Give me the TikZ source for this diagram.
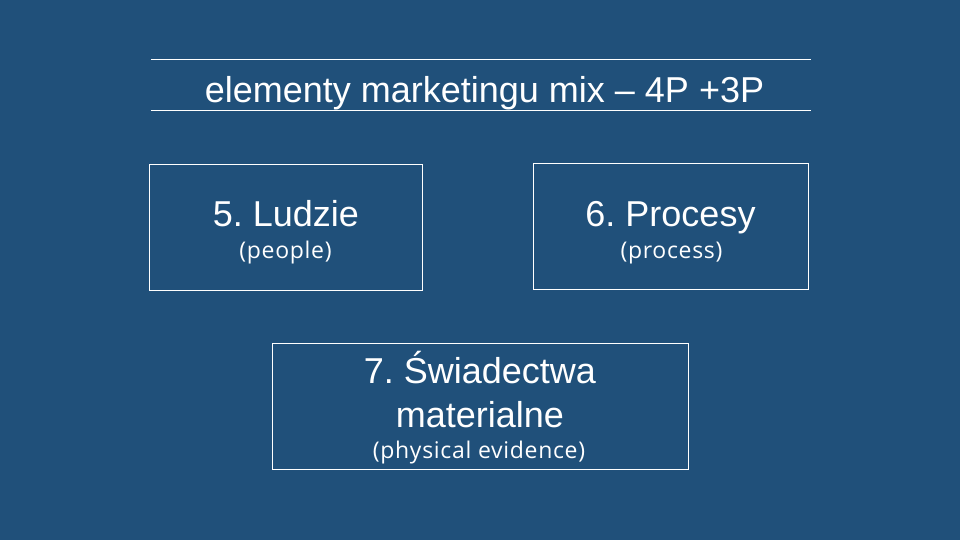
\documentclass[tikz,border=0pt]{standalone}
\usepackage{fontspec}
\setmainfont{Liberation Sans}
\newfontfamily\notefont[LetterSpace=3]{Open Sans}
\usetikzlibrary{positioning}

\definecolor{slideblue}{RGB}{32,80,122}

\tikzset{
  pbox/.style={draw=white, line width=0.8pt, minimum width=#1, minimum height=126pt, inner sep=0pt},
  bigtxt/.style={text=white, font=\fontsize{36}{40}\selectfont, anchor=base, inner sep=0pt},
  smalltxt/.style={text=white, font=\notefont\fontsize{23}{26}\selectfont, anchor=base, inner sep=0pt}
}

\begin{document}
\frenchspacing
\begin{tikzpicture}[x=1pt,y=-1pt]
\fill[color=slideblue] (0,0) rectangle (960,540);
\useasboundingbox (0,0) rectangle (960,540);

% title between two rules
\node[minimum width=660pt, minimum height=50pt, inner sep=0pt] (title) at (481,85) {};
\draw[color=white, line width=0.8pt] (title.north west) -- (title.north east);
\draw[color=white, line width=0.8pt] (title.south west) -- (title.south east);
\node[bigtxt] (titletxt) at (484.5,103) {elementy marketingu mix -- 4P +3P};

% 5
\node[pbox=273pt] (ludzie) at (285.5,227) {};
\node[bigtxt] (ludzietxt) at (286,226) {5. Ludzie};
\node[smalltxt] (people) at (285.5,258) {(people)};

% 6
\node[pbox=275pt] (procesy) at (670.5,226.5) {};
\node[bigtxt] (procesytxt) at (670.5,226) {6. Procesy};
\node[smalltxt] (process) at (671.5,258) {(process)};

% 7
\node[pbox=416pt] (swiad) at (480,406) {};
\node[bigtxt] (swiadtxt) at (480,383) {7. Świadectwa};
\node[bigtxt] (materialtxt) at (480,427) {materialne};
\node[smalltxt] (evidence) at (479,458) {(physical evidence)};
\end{tikzpicture}
\end{document}
